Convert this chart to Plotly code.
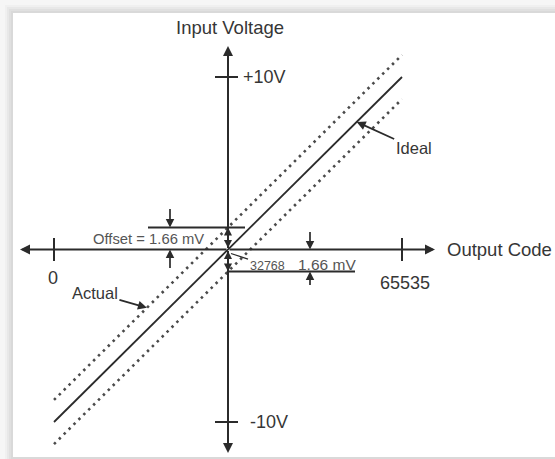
import plotly.graph_objects as go

# ---------------- data ----------------
code_ticks = [0, 65535]
code_tick_labels = ["0", "65535"]
mid_code = 32768
mid_code_label = "32768"
volt_ticks = [10, -10]
volt_tick_labels = ["+10V", "-10V"]
ideal_code = [0, 65535]
ideal_volt = [-10, 10]
offset_drawn = 1.28          # offset as drawn (exaggerated for visibility), volts on chart scale
offset_text = "1.66 mV"
x_title = "Output Code"
y_title = "Input Voltage"
ideal_label = "Ideal"
actual_label = "Actual"

actual_volt = [v + offset_drawn for v in ideal_volt]
lower_volt = [v - offset_drawn for v in ideal_volt]

# ---------------- geometry ----------------
W, H = 555, 459
PX_X0, PX_X1 = 54, 402      # pixel columns of code 0 and 65535
PX_YP, PX_YN = 77, 422      # pixel rows of +10V and -10V
cpp = (code_ticks[1] - code_ticks[0]) / (PX_X1 - PX_X0)   # code per pixel
vpp = 20.0 / (PX_YN - PX_YP)                               # volt per pixel
yc = (PX_YP + PX_YN) / 2
x_range = [-PX_X0 * cpp, (W - PX_X0) * cpp]
y_range = [-(H - yc) * vpp, yc * vpp]

def dx(px):
    return px * cpp

def dy(px):
    return px * vpp

INK = "#2b2b2b"
DOT = "#4a4a4a"
TXT = "#363636"
TXT2 = "#555555"
FONT = "Liberation Sans, Arial, sans-serif"

fig = go.Figure()

# ideal and actual transfer lines
fig.add_trace(go.Scatter(x=ideal_code, y=actual_volt, mode="lines",
                         line=dict(color=DOT, width=2.6, dash="2.5px,4.4px"),
                         hoverinfo="skip", showlegend=False))
fig.add_trace(go.Scatter(x=ideal_code, y=lower_volt, mode="lines",
                         line=dict(color=DOT, width=2.6, dash="2.5px,4.4px"),
                         hoverinfo="skip", showlegend=False))
fig.add_trace(go.Scatter(x=ideal_code, y=ideal_volt, mode="lines",
                         line=dict(color=INK, width=1.8),
                         hoverinfo="skip", showlegend=False))

shapes = []
# frame: soft shadow band on the top/left, white panel
band = [(5, "#f0f0f0"), (7, "#e8e8e8"), (9, "#e0e0e0"), (11, "#d9d9d9")]
for off, col in band:
    shapes.append(dict(type="rect", xref="paper", yref="paper",
                       x0=off / W, x1=1.02, y0=-0.02, y1=1 - off / H,
                       fillcolor=col, line=dict(width=0), layer="below"))
shapes.append(dict(type="rect", xref="paper", yref="paper",
                   x0=13 / W, x1=1.02, y0=1 - 457 / H, y1=1 - 13 / H,
                   fillcolor="white", line=dict(width=0), layer="below"))

# ticks on the code axis
for c in code_ticks:
    shapes.append(dict(type="line", xref="x", yref="y", x0=c, x1=c,
                       y0=-dy(11.5), y1=dy(11.5), line=dict(color=INK, width=2)))
# ticks on the voltage axis
for v in volt_ticks:
    shapes.append(dict(type="line", xref="x", yref="y", x0=mid_code - dx(13),
                       x1=mid_code + dx(10), y0=v, y1=v, line=dict(color=INK, width=2)))

# offset reference lines
shapes.append(dict(type="line", xref="x", yref="y", x0=mid_code - dx(80),
                   x1=mid_code + dx(17), y0=offset_drawn, y1=offset_drawn,
                   line=dict(color=INK, width=2)))
shapes.append(dict(type="line", xref="x", yref="y", x0=mid_code,
                   x1=mid_code + dx(127), y0=-offset_drawn, y1=-offset_drawn,
                   line=dict(color=INK, width=2)))

ann = []

def arrow_data(x, y, ax, ay, width=2, size=1.0, side="end", head=2):
    ann.append(dict(x=x, y=y, ax=ax, ay=ay, xref="x", yref="y", axref="x", ayref="y",
                    text="", showarrow=True, arrowhead=head, arrowsize=size,
                    arrowwidth=width, arrowcolor=INK, arrowside=side, standoff=0,
                    startstandoff=0))

# main axes with arrowheads
x_tip_l = -dx(PX_X0 - 20)
x_tip_r = code_ticks[1] + dx(435 - PX_X1)
y_tip = dy(yc - 46)
arrow_data(x_tip_l, 0, mid_code, 0)
arrow_data(x_tip_r, 0, mid_code, 0)
arrow_data(mid_code, y_tip, mid_code, 0)
arrow_data(mid_code, -y_tip, mid_code, 0)

# offset dimension arrows (left)
xl = mid_code - dx(58)
arrow_data(xl, offset_drawn, xl, offset_drawn + dy(20), width=1.7, size=1.0)
arrow_data(xl, 0, xl, -dy(20), width=1.7, size=1.0)
# offset dimension arrows (right)
xr = mid_code + dx(82)
arrow_data(xr, 0, xr, dy(19), width=1.7, size=1.0)
arrow_data(xr, -offset_drawn, xr, -offset_drawn - dy(15), width=1.7, size=1.0)
# small double arrows on the voltage axis
arrow_data(mid_code, offset_drawn, mid_code, 0, width=1.7, size=0.95, side="end+start")
arrow_data(mid_code, -offset_drawn, mid_code, 0, width=1.7, size=0.95, side="end+start")

def label(text, x, y, size, color=TXT, xanchor="center", yanchor="middle", xshift=0, yshift=0):
    ann.append(dict(x=x, y=y, xref="x", yref="y", text=text, showarrow=False,
                    xanchor=xanchor, yanchor=yanchor, xshift=xshift, yshift=yshift,
                    font=dict(family=FONT, size=size, color=color)))

label(y_title, mid_code, y_tip, 18.5, xshift=2, yshift=19)
label(x_title, x_tip_r, 0, 18.5, xanchor="left", xshift=10)
for v, t in zip(volt_ticks, volt_tick_labels):
    label(t, mid_code, v, 18, xanchor="left", xshift=13 if v > 0 else 20)
label(code_tick_labels[0], code_ticks[0], 0, 18, xshift=-1, yshift=-28)
label(code_tick_labels[1], code_ticks[1], 0, 18, xshift=3, yshift=-33)
label("Offset = " + offset_text, mid_code, 0, 14.8, color=TXT2, xanchor="right",
      xshift=-22, yshift=11)
label(offset_text, mid_code + dx(99), 0, 15.5, color=TXT2, yshift=-15)

# 32768 label with leader
ann.append(dict(x=mid_code + dx(3), y=-dy(4), xref="x", yref="y", text=mid_code_label,
                showarrow=True, arrowhead=0, arrowwidth=1.3, arrowcolor=INK,
                ax=36, ay=12, standoff=0, font=dict(family=FONT, size=12.5, color=TXT2)))

# Ideal / Actual callouts
ic = 57000
iv = ideal_volt[0] + (ic - ideal_code[0]) * (ideal_volt[1] - ideal_volt[0]) / (ideal_code[1] - ideal_code[0])
ann.append(dict(x=ic, y=iv, xref="x", yref="y", text=ideal_label, showarrow=True,
                arrowhead=2, arrowsize=1, arrowwidth=1.8, arrowcolor=INK,
                ax=57, ay=26, standoff=0, font=dict(family=FONT, size=16.5, color=TXT)))
acode = 17500
av = actual_volt[0] + (acode - ideal_code[0]) * (actual_volt[1] - actual_volt[0]) / (ideal_code[1] - ideal_code[0])
ann.append(dict(x=acode, y=av, xref="x", yref="y", text=actual_label, showarrow=True,
                arrowhead=2, arrowsize=1, arrowwidth=1.8, arrowcolor=INK,
                ax=-52, ay=-15, standoff=0, font=dict(family=FONT, size=16.5, color=TXT)))

fig.update_layout(
    width=W, height=H, autosize=False,
    margin=dict(l=0, r=0, t=0, b=0, pad=0),
    paper_bgcolor="#f6f6f6", plot_bgcolor="rgba(0,0,0,0)",
    xaxis=dict(range=x_range, visible=False, fixedrange=True),
    yaxis=dict(range=y_range, visible=False, fixedrange=True),
    shapes=shapes, annotations=ann, showlegend=False,
)

fig.write_html("out.html", config={"displayModeBar": False, "staticPlot": True},
               post_script="document.body.style.margin='0';document.body.style.overflow='hidden';")
